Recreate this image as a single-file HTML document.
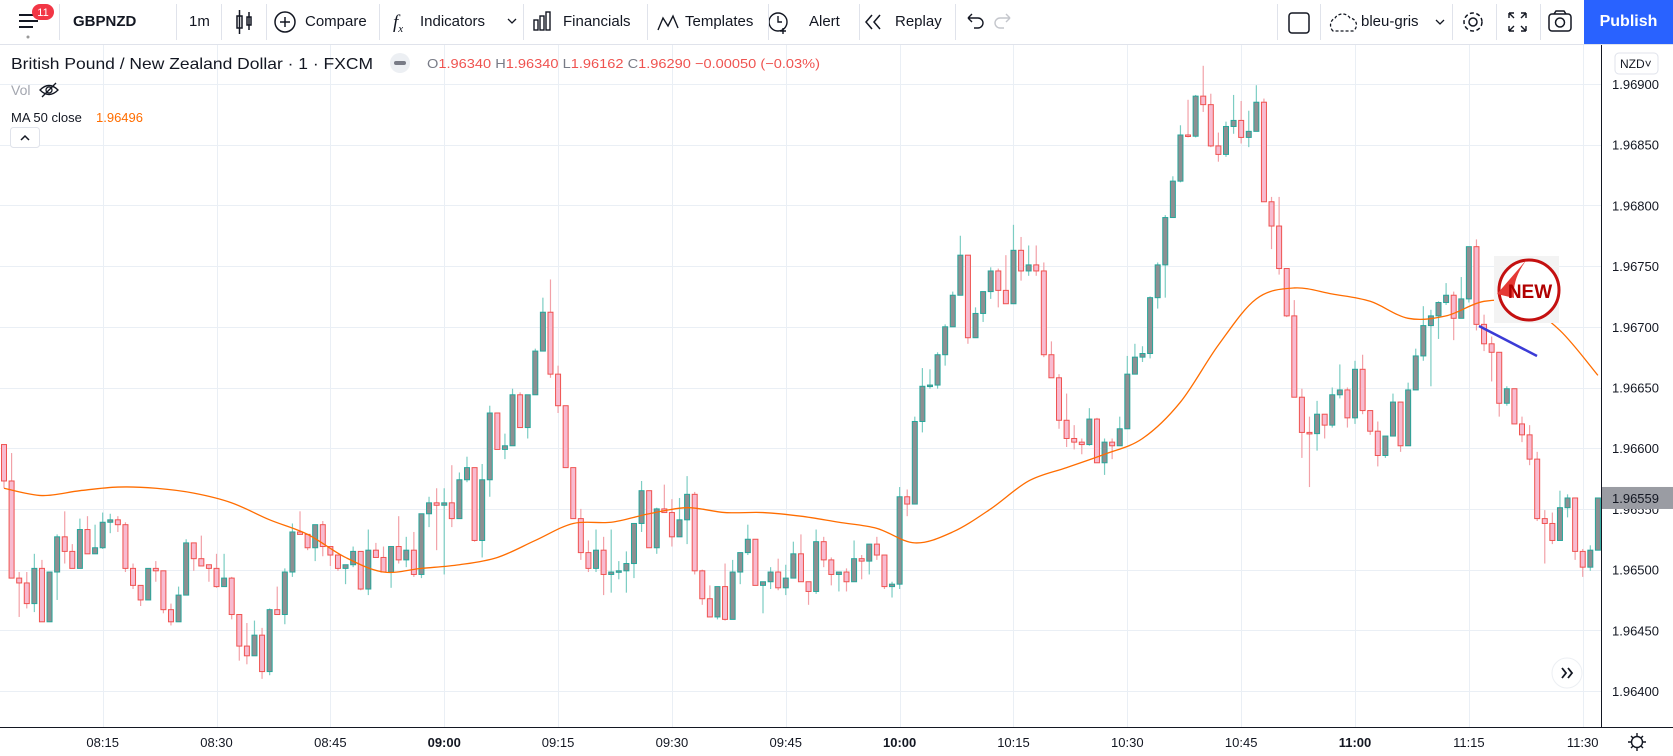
<!DOCTYPE html>
<html><head><meta charset="utf-8"><style>
html,body{margin:0;padding:0;background:#fff;width:1673px;height:756px;overflow:hidden;font-family:"Liberation Sans",sans-serif;}
#tb{position:absolute;left:0;top:0;width:1673px;height:44px;border-bottom:1px solid #e0e3eb;background:#fff;}
.t{position:absolute;top:0;height:44px;line-height:44px;font-size:15px;color:#131722;white-space:nowrap;}
.sep{position:absolute;top:4px;width:1px;height:36px;background:#e0e3eb;}
svg{position:absolute;left:0;top:0;}
</style></head><body>
<div id="tb">
  <svg width="1673" height="44">
    <g><rect x="19" y="14" width="19" height="2" fill="#131722"/><rect x="19" y="20" width="19" height="2" fill="#131722"/><rect x="19" y="26" width="14" height="2" fill="#131722"/><circle cx="28" cy="37" r="1.5" fill="#999"/></g>
    <g><rect x="32" y="4" width="22" height="16" rx="8" fill="#f23645"/><text x="43" y="16" font-size="11" fill="#fff" text-anchor="middle" font-family="Liberation Sans">11</text></g>
    <g fill="none" stroke="#131722" stroke-width="1.5"><rect x="237" y="16" width="5" height="12"/><line x1="239.5" y1="10" x2="239.5" y2="34"/><rect x="247" y="17" width="4" height="8"/><line x1="249" y1="12" x2="249" y2="30"/></g>
    <g fill="none" stroke="#131722" stroke-width="1.5"><circle cx="285" cy="22" r="10"/><line x1="280" y1="22" x2="290" y2="22"/><line x1="285" y1="17" x2="285" y2="27"/></g>
    <text x="393" y="28" font-size="19" font-style="italic" fill="#131722" font-family="Liberation Serif">f<tspan font-size="11" dy="4">x</tspan></text>
    <path d="M508 19 l4 4 l4 -4" fill="none" stroke="#131722" stroke-width="1.3"/>
    <g fill="none" stroke="#131722" stroke-width="1.4"><rect x="534" y="20" width="4" height="10"/><rect x="540" y="16" width="4" height="14"/><rect x="546" y="12" width="4" height="18"/></g>
    <path d="M658 30 l5 -12 l5 8 l5 -10 l5 12" fill="none" stroke="#131722" stroke-width="1.4"/>
    <g fill="none" stroke="#131722" stroke-width="1.4"><circle cx="778" cy="22" r="9"/><path d="M778 16 v6 h4"/><path d="M783 28 v6 M780 31 h6"/></g>
    <path d="M872 15 l-6 7 l6 7 M880 15 l-6 7 l6 7" fill="none" stroke="#131722" stroke-width="1.5"/>
    <path d="M968 18 h10 a5 5 0 0 1 0 10 h-4 M968 18 l4 -4 M968 18 l4 4" fill="none" stroke="#131722" stroke-width="1.4"/>
    <path d="M1010 18 h-10 a5 5 0 0 0 0 10 h4 M1010 18 l-4 -4 M1010 18 l-4 4" fill="none" stroke="#c4c6cc" stroke-width="1.4"/>
    <rect x="1289" y="13" width="20" height="20" rx="3" fill="none" stroke="#131722" stroke-width="1.5"/>
    <path d="M1333 31 a8 8 0 0 1 2 -13 a9 9 0 0 1 15 0 a7 7 0 0 1 3 13 z" fill="none" stroke="#131722" stroke-width="1.3" stroke-dasharray="3 2"/>
    <path d="M1436 20 l4 4 l4 -4" fill="none" stroke="#131722" stroke-width="1.3"/>
    <g fill="none" stroke="#131722" stroke-width="1.5"><circle cx="1473" cy="22" r="4"/><circle cx="1473" cy="22" r="9" stroke-dasharray="4 2.5"/></g>
    <path d="M1509 13 h5 M1509 13 v5 M1509 13 l5 5 M1526 13 h-5 M1526 13 v5 M1526 13 l-5 5 M1509 31 h5 M1509 31 v-5 M1509 31 l5 -5 M1526 31 h-5 M1526 31 v-5 M1526 31 l-5 -5" fill="none" stroke="#131722" stroke-width="1.4"/>
    <g fill="none" stroke="#131722" stroke-width="1.5"><rect x="1549" y="14" width="22" height="17" rx="3"/><circle cx="1560" cy="22.5" r="4.5"/><path d="M1554 14 l2 -3 h8 l2 3"/></g>
  </svg>
  <div class="sep" style="left:59px"></div>
  <div class="t" style="left:73px;font-weight:bold;font-size:15px">GBPNZD</div>
  <div class="sep" style="left:176px"></div>
  <div class="t" style="left:189px">1m</div>
  <div class="sep" style="left:221px"></div>
  <div class="sep" style="left:266px"></div>
  <div class="t" style="left:305px">Compare</div>
  <div class="sep" style="left:379px"></div>
  <div class="t" style="left:420px">Indicators</div>
  <div class="sep" style="left:523px"></div>
  <div class="t" style="left:563px">Financials</div>
  <div class="sep" style="left:647px"></div>
  <div class="t" style="left:685px">Templates</div>
  <div class="sep" style="left:768px"></div>
  <div class="t" style="left:809px">Alert</div>
  <div class="sep" style="left:859px"></div>
  <div class="t" style="left:895px">Replay</div>
  <div class="sep" style="left:955px"></div>
  <div class="sep" style="left:1277px"></div>
  <div class="sep" style="left:1320px"></div>
  <div class="t" style="left:1361px">bleu-gris</div>
  <div class="sep" style="left:1452px"></div>
  <div class="sep" style="left:1496px"></div>
  <div class="sep" style="left:1540px"></div>
  <div class="t" style="left:1584px;width:89px;background:#2962ff;color:#fff;text-align:center;font-size:16px;font-weight:bold">Publish</div>
</div>

<svg id="chart" width="1673" height="756" style="top:0"></svg>

<script>
const opens=[603,573,493,489,472,501,457,498,527,515,501,533,513,518,539,541,537,501,487,475,501,499,467,457,479,522,509,504,501,486,493,463,437,429,446,416,467,463,498,531,529,518,537,519,512,501,504,515,484,516,510,498,519,508,516,496,546,555,553,555,542,574,584,524,574,629,599,602,644,617,644,680,712,661,635,584,542,514,501,516,496,498,499,505,538,565,518,550,547,527,541,562,499,476,461,486,459,498,514,525,487,490,498,485,493,513,490,482,523,508,496,498,490,509,507,521,512,486,488,560,554,622,651,652,677,700,726,759,691,711,729,746,730,719,763,746,751,746,677,658,623,608,605,603,624,588,605,602,616,661,675,678,724,751,790,820,858,857,890,883,849,842,865,870,856,861,885,803,783,748,709,642,613,612,628,619,644,648,625,665,631,614,594,610,638,602,648,676,701,709,720,726,707,723,766,702,686,679,637,649,620,611,591,542,538,524,551,559,515,502,516];
const closes=[573,493,489,472,501,457,498,527,515,501,533,513,518,539,541,537,501,487,475,501,499,467,457,479,522,509,503,501,486,493,463,437,429,446,416,467,463,498,531,529,518,537,519,512,501,504,515,484,516,510,498,519,508,516,496,546,555,553,555,542,574,584,524,574,629,599,602,644,617,644,680,712,661,635,584,542,514,501,516,496,498,499,505,538,565,518,550,547,527,541,562,499,476,461,486,459,498,514,525,487,490,498,485,493,513,490,482,523,508,496,498,490,509,507,521,512,486,488,560,554,622,651,652,677,700,726,759,691,711,729,746,730,719,763,746,751,746,677,658,623,608,605,603,624,588,605,602,616,661,675,678,724,751,790,820,858,857,890,883,849,842,865,870,856,861,885,803,783,748,709,642,613,612,628,619,644,648,625,665,631,614,594,610,638,602,648,676,701,709,720,726,707,723,766,702,686,679,637,649,620,611,591,542,538,524,551,559,515,502,516,559];
const highs=[603,596,498,498,513,508,498,529,548,521,542,544,537,547,546,544,539,505,487,501,507,499,472,486,525,522,528,504,513,513,494,463,456,458,452,468,486,501,538,548,529,537,540,519,512,504,519,515,533,522,519,519,544,527,531,546,560,567,567,586,580,593,584,587,635,629,612,649,646,644,682,724,739,668,635,584,550,524,533,527,533,507,515,538,573,565,551,570,558,559,577,564,500,487,486,505,508,514,537,525,490,502,509,504,523,529,490,533,527,510,498,501,524,512,521,527,512,490,568,566,626,666,665,679,702,729,775,759,716,729,749,748,759,784,774,767,767,753,688,661,645,619,608,633,625,608,608,626,676,686,684,725,753,792,824,866,887,891,915,892,860,869,891,886,878,899,888,807,807,748,722,649,626,639,628,650,669,650,672,677,631,622,610,645,638,654,682,717,714,721,736,729,741,766,772,710,692,679,651,649,626,619,597,549,547,565,562,559,517,520,559];
const lows=[567,493,461,468,465,457,457,475,505,501,501,513,513,517,530,531,498,484,470,475,490,464,454,457,479,499,503,490,485,486,459,425,422,429,410,413,463,455,494,529,516,507,511,503,499,488,502,483,479,510,498,485,505,502,494,493,535,516,496,535,542,572,523,510,560,599,591,602,617,608,644,680,658,629,584,542,508,498,498,479,481,492,481,493,531,518,513,547,519,527,521,496,471,461,459,458,459,488,512,487,464,484,483,479,493,490,471,480,502,487,482,482,490,492,496,508,484,477,484,544,554,613,649,649,668,720,726,686,691,704,723,716,719,719,738,742,742,675,658,616,601,599,595,602,588,578,591,602,616,661,671,674,715,724,817,819,856,856,877,848,836,840,859,851,848,861,803,764,743,708,642,592,568,598,608,617,641,617,620,628,611,585,592,610,597,602,648,672,651,690,718,689,707,720,697,680,655,626,635,620,605,586,540,505,521,524,543,508,494,499,516];
const maIndex=[1,6,11,16,21,26,31,36,41,46,51,56,61,66,71,76,81,86,91,96,101,106,111,116,121,126,131,136,141,146,151,156,161,166,171,176,181,186,191,196,201,206,211];
const maValues=[567,561,565,568,567,563,555,541,529,510,498,501,504,510,524,538,539,546,551,547,547,544,539,534,522,531,550,573,584,595,608,638,685,723,732,727,721,707,709,721,719,697,660];
const priceTicks=["1.96400","1.96450","1.96500","1.96550","1.96600","1.96650","1.96700","1.96750","1.96800","1.96850","1.96900"];
const timeTicks=["08:15","08:30","08:45","09:00","09:15","09:30","09:45","10:00","10:15","10:30","10:45","11:00","11:15","11:30"];
const timeTickMinutes=[13,28,43,58,73,88,103,118,133,148,163,178,193,208];
const boldTicks=["09:00","10:00","11:00"];
const lastPrice="1.96559";

const NS="http://www.w3.org/2000/svg";
const svg=document.getElementById('chart');
const PLOT_R=1601, AXIS_Y=727;
function P(v){return 1.96+v/100000;}
function yOf(p){return 84+(1.969-p)*121400;}
function xOf(i){return 4+i*7.59;}
function mk(tag,attrs,parent){const e=document.createElementNS(NS,tag);for(const k in attrs)e.setAttribute(k,attrs[k]);(parent||svg).appendChild(e);return e;}

const grid=mk('g',{});


priceTicks.forEach(t=>{const y=Math.round(yOf(parseFloat(t)))+0.5;
  const l=mk('line',{x1:0,x2:PLOT_R,y1:y,y2:y,stroke:'#eaeff5','stroke-width':1},grid);
  
  
});
timeTickMinutes.forEach(m=>{const x=Math.round(xOf(m))+0.5;
  const l=mk('line',{x1:x,x2:x,y1:45,y2:AXIS_Y,stroke:'#eaeff5','stroke-width':1},grid);
  
  
});

const cg=mk('g',{});


for(let i=0;i<opens.length;i++){
  const o=P(opens[i]),c=P(closes[i]),h=P(highs[i]),l=P(lows[i]);
  const up=c>=o, x=xOf(i);
  const g=mk('g',{},cg);
  
  
  mk('line',{x1:x,x2:x,y1:yOf(h),y2:yOf(l),stroke:up?'#7ccdc3':'#f2a1a8','stroke-width':1.2},g);
  const top=yOf(Math.max(o,c)),bot=yOf(Math.min(o,c));
  mk('rect',{x:x-2.5,y:top,width:5,height:Math.max(bot-top,1.5),fill:up?'#8e8f92':'#f8bbd0',stroke:up?'#26a69a':'#ef5350','stroke-width':1},g);
}

function ptsMA(){return maIndex.map((k,j)=>[xOf(k-1),yOf(P(maValues[j]))]);}
const pts=ptsMA();
let d='M'+pts[0][0]+' '+pts[0][1];
for(let i=0;i<pts.length-1;i++){
  const p0=pts[Math.max(i-1,0)],p1=pts[i],p2=pts[i+1],p3=pts[Math.min(i+2,pts.length-1)];
  d+=' C'+(p1[0]+(p2[0]-p0[0])/6)+' '+(p1[1]+(p2[1]-p0[1])/6)+' '+(p2[0]-(p3[0]-p1[0])/6)+' '+(p2[1]-(p3[1]-p1[1])/6)+' '+p2[0]+' '+p2[1];
}
const ma=mk('path',{d:d,fill:'none',stroke:'#ff6d00','stroke-width':1.3});



const tl=mk('line',{x1:1479,y1:326,x2:1537,y2:356,stroke:'#3b3bd6','stroke-width':2.5});



const ns=mk('g',{});


mk('rect',{x:1494,y:256,width:65,height:67,fill:'#f3f3f3'},ns);
mk('circle',{cx:1529,cy:290,r:30,fill:'#fff',stroke:'#c41010','stroke-width':3},ns);
mk('path',{d:'M1497 294 L1528 258 Q1512 278 1514 298 Z',fill:'#e53935'},ns);
const nt=mk('text',{x:1530,y:298,'font-size':19,'font-weight':'bold','font-family':'Liberation Sans','fill':'#b00000','text-anchor':'middle'},ns);
nt.textContent='NEW';

const ax=mk('g',{});


mk('rect',{x:PLOT_R,y:45,width:72,height:AXIS_Y-45,fill:'#fff'},ax);
mk('line',{x1:PLOT_R+0.5,x2:PLOT_R+0.5,y1:45,y2:756,stroke:'#131722','stroke-width':1},ax);
priceTicks.forEach(t=>{const tx=mk('text',{x:1612,y:yOf(parseFloat(t))+5,'font-size':13,fill:'#131722','font-family':'Liberation Sans'},ax);
  tx.textContent=t;
  
  
});
const lp=mk('g',{},ax);


const ly=yOf(parseFloat(lastPrice));
mk('rect',{x:PLOT_R+1,y:ly-11,width:71,height:22,fill:'#9a9ca3'},lp);
const lt=mk('text',{x:1612,y:ly+5,'font-size':13,fill:'#131722','font-family':'Liberation Sans'},lp);
lt.textContent=lastPrice;
const cur=mk('g',{},ax);


mk('rect',{x:1615,y:53,width:43,height:21,rx:4,fill:'#fff',stroke:'#e0e3eb'},cur);
const ct=mk('text',{x:1620,y:68,'font-size':12,fill:'#131722','font-family':'Liberation Sans'},cur);
ct.textContent='NZD\u02C5';

const ta=mk('g',{});


mk('rect',{x:0,y:AXIS_Y,width:1673,height:756-AXIS_Y,fill:'#fff'},ta);
mk('line',{x1:0,x2:1673,y1:AXIS_Y+0.5,y2:AXIS_Y+0.5,stroke:'#131722','stroke-width':1},ta);
timeTicks.forEach((t,j)=>{const tx=mk('text',{x:xOf(timeTickMinutes[j]),y:747,'font-size':13,fill:'#131722','text-anchor':'middle','font-family':'Liberation Sans','font-weight':boldTicks.includes(t)?'bold':'normal'},ta);
  tx.textContent=t;
  
  
});
const gear=mk('g',{fill:'none',stroke:'#131722','stroke-width':1.4},ta);


mk('circle',{cx:1637,cy:742,r:5.5},gear);
mk('path',{d:'M1637 733v3M1637 748v3M1628 742h3M1643 742h3M1631 736l2 2M1641 746l2 2M1631 748l2 -2M1641 738l2 -2'},gear);

const sb=mk('g',{});


mk('circle',{cx:1567,cy:673,r:15,fill:'#fff',stroke:'#eceff3'},sb);
mk('path',{d:'M1562 668l4 5l-4 5M1568 668l4 5l-4 5',fill:'none',stroke:'#131722','stroke-width':1.8},sb);

const lg=mk('g',{'font-family':'Liberation Sans'});


const t1=mk('text',{x:11,y:69,'font-size':16,fill:'#131722',textLength:362,lengthAdjust:'spacingAndGlyphs'},lg);
t1.textContent='British Pound / New Zealand Dollar \u00B7 1 \u00B7 FXCM';


mk('circle',{cx:400,cy:63,r:10,fill:'#eceff3'},lg);
mk('rect',{x:394,y:61,width:12,height:4,rx:2,fill:'#787b86'},lg);
const oh=mk('text',{x:427,y:68,'font-size':13,fill:'#787b86',textLength:393,lengthAdjust:'spacingAndGlyphs'},lg);


[['O','1.96340'],['H','1.96340'],['L','1.96162'],['C','1.96290 \u22120.00050 (\u22120.03%)']].forEach((p,k)=>{
  const a=document.createElementNS(NS,'tspan');a.textContent=(k?' ':'')+p[0];a.setAttribute('fill','#787b86');oh.appendChild(a);
  const b=document.createElementNS(NS,'tspan');b.textContent=p[1];b.setAttribute('fill','#ef5350');oh.appendChild(b);
});
const vol=mk('text',{x:11,y:95,'font-size':14,fill:'#a3a6af'},lg);
vol.textContent='Vol';


const eye=mk('g',{fill:'none',stroke:'#131722','stroke-width':1.3},lg);


mk('path',{d:'M40 90 q9 -9 18 0 q-9 9 -18 0z'},eye);
mk('circle',{cx:49,cy:90,r:3},eye);
mk('line',{x1:42,y1:97,x2:56,y2:83},eye);
const mal=mk('text',{x:11,y:122,'font-size':13,fill:'#131722'},lg);
mal.textContent='MA 50 close';


const mav=mk('text',{x:96,y:122,'font-size':13,fill:'#ff6d00'},lg);
mav.textContent='1.96496';


const cb=mk('g',{},lg);


mk('rect',{x:10.5,y:127.5,width:29,height:20,rx:3,fill:'#fff',stroke:'#e0e3eb'},cb);
mk('path',{d:'M21 140l4 -4l4 4',fill:'none',stroke:'#131722','stroke-width':1.5},cb);
</script>
</body></html>
